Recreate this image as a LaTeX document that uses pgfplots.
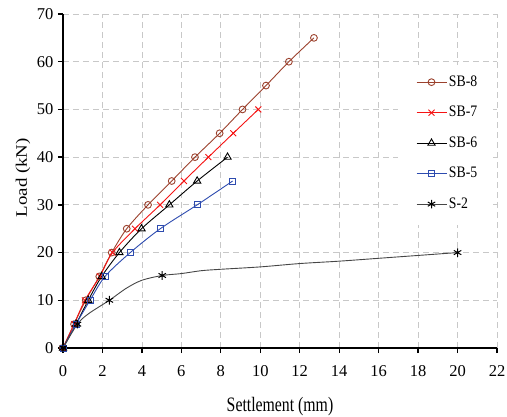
\documentclass[border=0pt]{standalone}
\usepackage{fontspec}
\setmainfont{Liberation Serif}
\newfontfamily\xlabfont{Liberation Serif}[FakeStretch=0.77]
\newfontfamily\ylabfont{Liberation Serif}[FakeStretch=1.18]
\newfontfamily\legfont{Liberation Serif}[FakeStretch=0.86]
\usepackage{pgfplots}
\pgfplotsset{compat=1.18}
\definecolor{cSBe}{RGB}{155,65,45}
\definecolor{cSBs}{RGB}{245,20,20}
\definecolor{cSBf}{RGB}{45,75,175}
\definecolor{cS}{RGB}{70,70,70}
\definecolor{cgrid}{RGB}{200,200,200}
\begin{document}
\fontsize{16bp}{19bp}\selectfont
\begin{tikzpicture}[x=1bp,y=1bp]
\begin{axis}[
  at={(0,0)}, anchor=south west,
  scale only axis,
  width=434bp, height=334bp,
  xmin=0, xmax=22, ymin=0, ymax=70,
  xtick={0,2,...,22}, ytick={0,10,...,70},
  axis x line*=bottom, axis y line*=left,
  axis line style={line width=1.8bp, black},
  tick align=outside, major tick length=5bp,
  tick style={line width=1.3bp, black},
  grid=major,
  major grid style={cgrid, line width=0.8bp, dash pattern=on 6bp off 4bp},
  /pgf/number format/assume math mode=true,
  ticklabel style={font=\fontsize{16.5bp}{19bp}\selectfont},
  xticklabel style={yshift=-7bp},
  yticklabel style={xshift=1bp},
  xlabel={Settlement (mm)}, ylabel={Load (kN)},
  xlabel style={font=\xlabfont\fontsize{20.5bp}{24bp}\selectfont, at={(axis description cs:0.5,-0.1886)}, anchor=base},
  ylabel style={font=\ylabfont\fontsize{16bp}{19bp}\selectfont, at={(axis description cs:-0.083,0.51)}, anchor=base, rotate=0},
  legend style={at={(axis description cs:0.813,0.822)}, anchor=north west, draw=none, fill=none,
    font=\legfont\fontsize{16bp}{19bp}\selectfont, row sep=13.5bp, inner sep=0bp,
    cells={anchor=west}},
  legend image code/.code={\draw[mark repeat=2,mark phase=2] plot coordinates {(0bp,0bp) (15bp,0bp) (30bp,0bp)};},
  every axis plot/.append style={line width=0.9bp},
]
\fill[white] (axis cs:16.98,25.8) rectangle (axis cs:21.8,59.3);
\addplot[cSBe, smooth, mark=o, mark size=3.4bp, mark options={solid, line width=0.9bp}] coordinates {
(0,0) (0.56,5) (1.15,10) (1.84,15) (2.47,20) (3.23,25) (4.31,30) (5.51,35) (6.69,40) (7.94,45) (9.1,50) (10.29,55) (11.45,60) (12.72,65)};
\addlegendentry{SB-8}
\addplot[cSBs, smooth, mark=x, mark size=4.2bp, mark options={solid, line width=0.9bp}] coordinates {
(0,0) (0.56,5) (1.11,10) (1.87,15) (2.51,20) (3.65,25) (4.92,30) (6.13,35) (7.37,40) (8.63,45) (9.9,50)};
\addlegendentry{SB-7}
\addplot[black, smooth, mark=triangle, mark size=4.2bp, mark options={solid, line width=0.9bp}] coordinates {
(0,0) (0.66,5) (1.28,10) (1.96,15) (2.86,20) (3.98,25) (5.39,30) (6.8,35) (8.34,40)};
\addlegendentry{SB-6}
\addplot[cSBf, smooth, mark=square, mark size=3bp, mark options={solid, line width=0.9bp}] coordinates {
(0,0) (0.66,5) (1.37,10) (2.13,15) (3.41,20) (4.93,25) (6.8,30) (8.6,35)};
\addlegendentry{SB-5}
\addplot[cS, smooth, mark=asterisk, mark size=4.3bp, mark indices={1,2,4,7,16}, mark options={black, solid, line width=1bp}, forget plot] coordinates {
(0,0) (0.73,5) (1.3,7.2) (2.35,10) (3.2,12.5) (4,14.2) (5.03,15.2) (6,15.6) (7,16.2) (8,16.5) (10,17) (12,17.7) (14,18.2) (16,18.8) (18,19.4) (20,20)};
\addlegendimage{cS, mark=asterisk, mark size=4.3bp, mark options={black, solid, line width=1bp}, line width=0.9bp}
\addlegendentry{S-2}
\end{axis}
\pgfresetboundingbox
\path (-63,-68) rectangle (444,348);
\end{tikzpicture}
\end{document}
